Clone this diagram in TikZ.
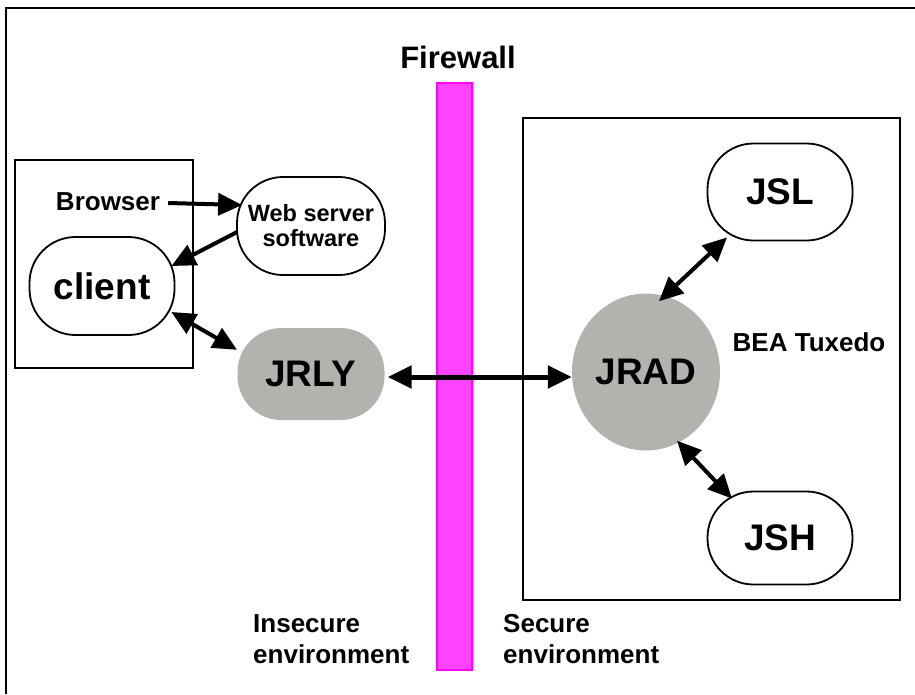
\documentclass[tikz,border=0pt]{standalone}
\usepackage{fontspec}
\setmainfont{Liberation Sans}
\usetikzlibrary{arrows.meta,shapes.geometric}
\definecolor{fwfill}{HTML}{FF44FF}
\definecolor{fwline}{HTML}{FF00FF}
\definecolor{procgray}{HTML}{B3B2AE}
\tikzset{
  frame/.style={draw=black,line width=2.5pt},
  oval/.style={draw=black,line width=1.8pt,rounded corners=46pt,inner sep=0pt,align=center},
  grayoval/.style={fill=procgray,draw=none,rounded corners=44pt,inner sep=0pt},
  bigtxt/.style={font=\fontsize{37}{40}\selectfont\bfseries},
  smalltxt/.style={font=\fontsize{23.5}{25}\selectfont\bfseries},
  envtxt/.style={font=\fontsize{26}{31}\selectfont\bfseries,align=left,inner sep=0pt},
  tip/.tip={Triangle[length=24pt,width=22pt]},
  arr/.style={line width=4pt,-tip},
  darr/.style={line width=4pt,tip-tip},
}
\begin{document}
\begin{tikzpicture}[x=1pt,y=-1pt]
\useasboundingbox (0,0) rectangle (915,694);
% outer frame (only left and top visible)
\draw[frame] (6,694) -- (6,8) -- (915,8);
% boxes
\draw[frame] (15,160) rectangle (193,368);
\draw[frame] (523,118) rectangle (900,600);
% firewall
\draw[fill=fwfill,draw=fwline,line width=1.5pt] (437,83) rectangle (472,670);
\node[font=\fontsize{31}{33}\selectfont\bfseries] (fwlabel) at (458,57) {Firewall};
% nodes
\node[font=\fontsize{26}{28}\selectfont\bfseries,inner sep=0pt] (browser) at (108,202) {Browser};
\node[oval,smalltxt,minimum width=148pt,minimum height=98pt] (web) at (311,226) {Web server\\software};
\node[oval,bigtxt,minimum width=145pt,minimum height=98pt] (client) at (102,286) {client};
\node[grayoval,bigtxt,minimum width=147pt,minimum height=92pt] (jrly) at (311,374) {JRLY};
\node[ellipse,fill=procgray,draw=none,bigtxt,minimum width=148pt,minimum height=157pt,inner sep=0pt] (jrad) at (646,372) {JRAD};
\node[oval,bigtxt,minimum width=145pt,minimum height=97pt] (jsl) at (780,192) {JSL};
\node[oval,bigtxt,minimum width=145pt,minimum height=93pt] (jsh) at (780,538) {JSH};
\node[font=\fontsize{26}{28}\selectfont\bfseries] (tux) at (809,342) {BEA Tuxedo};
\node[envtxt,anchor=north west] (insec) at (253,614) {Insecure\\environment};
\node[envtxt,anchor=north west] (sec) at (503,614) {Secure\\environment};
% connectors
\draw[arr] ([xshift=8pt,yshift=-1pt]browser.east) -- ([xshift=6pt,yshift=21pt]web.west);
\draw[arr] ([xshift=1pt,yshift=-6pt]web.west) -- ([xshift=-4pt,yshift=20pt]client.east);
\draw[darr] ([xshift=-4pt,yshift=-26pt]client.east) -- ([xshift=-74pt,yshift=-22pt]jrly.north);
\draw[darr,line width=5pt] ([xshift=3pt,yshift=-3pt]jrly.east) -- ([yshift=-5pt]jrad.west);
\draw[darr] ([xshift=-53pt,yshift=4pt]jsl.south) -- ([xshift=13pt,yshift=-8pt]jrad.north);
\draw[darr] ([xshift=31pt,yshift=10pt]jrad.south) -- ([xshift=-48pt,yshift=-8pt]jsh.north);
\end{tikzpicture}
\end{document}
